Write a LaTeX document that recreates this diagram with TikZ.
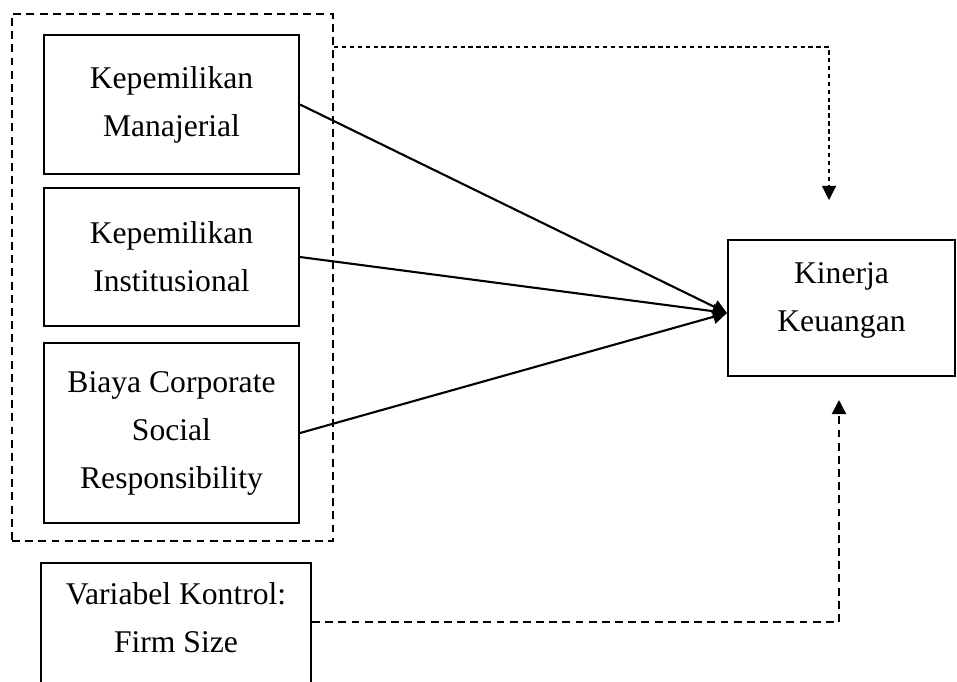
\documentclass[tikz,border=0pt]{standalone}
\usepackage{fontspec}
\setmainfont{Liberation Serif}
\usetikzlibrary{arrows.meta}
\begin{document}
\begin{tikzpicture}[x=0.02cm,y=-0.02cm,
        font=\fontsize{18}{27.3}\selectfont,
        var/.style={draw,line width=1.2pt,align=center,inner sep=0pt,minimum width=5.1cm},
        grpbox/.style={draw,line width=1.2pt,dash pattern=on 4.5pt off 3pt},
        tip/.style={-{Triangle[length=8pt,width=8pt]}}]
        \useasboundingbox (0,0) rectangle (957,681);
        \node[grpbox,minimum width=6.42cm,minimum height=10.54cm] (grp) at (172.5,277.5) {};
        \node[var,minimum height=2.78cm] (km) at (171.5,104.5) {Kepemilikan\\ Manajerial};
        \node[var,minimum height=2.76cm] (ki) at (171.5,257) {Kepemilikan\\ Institusional};
        \node[var,minimum height=3.6cm] (csr) at (171.5,433) {Biaya Corporate\\ Social\\ Responsibility};
        \node[var,minimum width=5.4cm,minimum height=3.44cm] (kontrol) at (176,649) {Variabel Kontrol:\\ Firm Size\\ \strut};
        \node[var,minimum width=4.54cm,minimum height=2.72cm,text depth=0.45cm] (kinerja) at (841.5,308) {Kinerja\\ Keuangan};
        \coordinate (topend) at (829,200);
        \coordinate (botend) at (839,400);
        \draw[line width=1.2pt,tip] (km.east) -- ([yshift=-0.1cm]kinerja.west);
        \draw[line width=1.2pt,tip] (ki.east) -- ([yshift=-0.1cm]kinerja.west);
        \draw[line width=1.2pt,tip] (csr.east) -- ([yshift=-0.1cm]kinerja.west);
        \draw[line width=0.6pt,dash pattern=on 2.5pt off 2pt,tip] ([yshift=-0.68cm]grp.north east) -| (topend);
        \draw[grpbox,tip] ([yshift=0.54cm]kontrol.east) -| (botend);
    \end{tikzpicture}
\end{document}
